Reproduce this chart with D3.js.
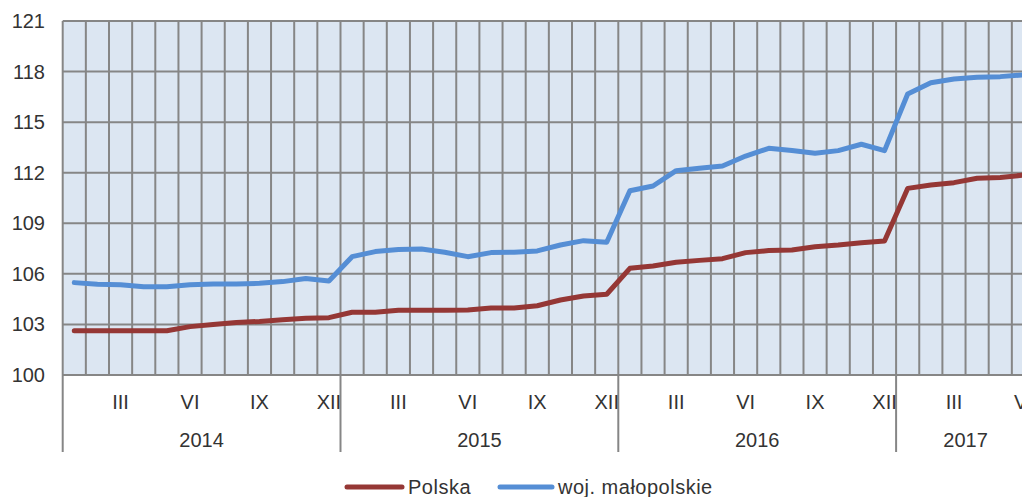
<!DOCTYPE html>
<html><head><meta charset="utf-8">
<script src="https://cdn.jsdelivr.net/npm/d3@7"></script>
<style>
html,body{margin:0;padding:0;background:#fff;overflow:hidden;}
svg{display:block;overflow:hidden;}
text{font-family:"Liberation Sans",Arial,sans-serif;fill:#333;}
</style></head>
<body>
<svg id="chart" width="1022" height="497"></svg>
<script>
const years = ["2014", "2015", "2016", "2017"];
const monthsInYear = [12, 12, 12, 6];
const romanMonths = ["I","II","III","IV","V","VI","VII","VIII","IX","X","XI","XII"];
const shownMonths = ["III","VI","IX","XII"];
const yTicks = [100, 103, 106, 109, 112, 115, 118, 121];
const seriesNames = ["Polska", "woj. małopolskie"];
const polska = [
  102.63,102.63,102.63,102.63,102.63,102.87,103.0,103.12,103.18,103.28,103.36,103.4,
  103.72,103.72,103.84,103.84,103.84,103.86,103.97,103.98,104.11,104.45,104.69,104.79,
  106.33,106.47,106.69,106.8,106.9,107.26,107.38,107.42,107.61,107.71,107.85,107.95,
  111.07,111.27,111.41,111.67,111.71,111.86
];
const malopolskie = [
  105.48,105.39,105.35,105.24,105.24,105.36,105.4,105.4,105.44,105.54,105.73,105.58,
  107.02,107.32,107.45,107.47,107.28,107.02,107.26,107.28,107.36,107.71,107.97,107.87,
  110.93,111.21,112.12,112.26,112.4,112.99,113.45,113.32,113.15,113.31,113.69,113.31,
  116.67,117.34,117.56,117.66,117.7,117.8
];

(function () {
const colors = ["#953735", "#558ED5"];
const gridColor = "#868686";

const cats = [];
years.forEach((yy, yi) => {
  for (let m = 0; m < monthsInYear[yi]; m++) cats.push({year: yy, month: romanMonths[m], key: yy + "-" + m});
});

const svg = d3.select("#chart");
const pLeft = 62.7, pTop = 21, pBottom = 375;
const catW = 23.15;
const pRight = pLeft + cats.length * catW;

const x = d3.scaleBand().domain(cats.map(d => d.key)).range([pLeft, pRight]).padding(0);
const y = d3.scaleLinear().domain([100, 121]).range([pBottom, pTop]);

svg.append("rect").attr("x", pLeft).attr("y", pTop).attr("width", pRight - pLeft).attr("height", pBottom - pTop).attr("fill", "#DCE6F2");

svg.append("g").selectAll("line").data(yTicks).join("line")
  .attr("x1", pLeft).attr("x2", pRight)
  .attr("y1", d => y(d)).attr("y2", d => y(d))
  .attr("stroke", gridColor).attr("stroke-width", 2);

const bounds = cats.map(d => x(d.key)).concat([pRight]);
svg.append("g").selectAll("line").data(bounds).join("line")
  .attr("x1", d => d).attr("x2", d => d)
  .attr("y1", pTop).attr("y2", pBottom)
  .attr("stroke", gridColor).attr("stroke-width", 2);

const yearBounds = [];
let idx = 0;
years.forEach((yy, yi) => { yearBounds.push({year: yy, start: x(cats[idx].key), end: x(cats[idx].key) + monthsInYear[yi] * catW}); idx += monthsInYear[yi]; });
const sepX = [pLeft].concat(yearBounds.map(d => d.end));
svg.append("g").selectAll("line").data(sepX).join("line")
  .attr("x1", d => d).attr("x2", d => d)
  .attr("y1", pBottom).attr("y2", 452)
  .attr("stroke", gridColor).attr("stroke-width", 2);

svg.append("g").selectAll("text").data(yTicks).join("text")
  .attr("x", 45).attr("y", d => y(d)).attr("dy", "0.35em")
  .attr("text-anchor", "end").attr("font-size", 20).text(d => d);

svg.append("g").selectAll("text").data(cats.filter(d => shownMonths.includes(d.month))).join("text")
  .attr("x", d => x(d.key) + x.bandwidth() / 2).attr("y", 402).attr("dy", "0.35em")
  .attr("text-anchor", "middle").attr("font-size", 20).text(d => d.month);

svg.append("g").selectAll("text").data(yearBounds).join("text")
  .attr("x", d => (d.start + d.end) / 2).attr("y", 440).attr("dy", "0.35em")
  .attr("text-anchor", "middle").attr("font-size", 20).text(d => d.year);

const line = d3.line().x((d, i) => x(cats[i].key) + x.bandwidth() / 2).y(d => y(d));
[polska, malopolskie].forEach((s, si) => {
  svg.append("path").datum(s).attr("d", line)
    .attr("fill", "none").attr("stroke", colors[si]).attr("stroke-width", 5)
    .attr("stroke-linejoin", "round").attr("stroke-linecap", "round");
});

const legendItems = [{x1: 347, x2: 402, tx: 408}, {x1: 500, x2: 552, tx: 558}];
legendItems.forEach((it, i) => {
  svg.append("line").attr("x1", it.x1).attr("x2", it.x2).attr("y1", 487).attr("y2", 487)
    .attr("stroke", colors[i]).attr("stroke-width", 5).attr("stroke-linecap", "round");
  svg.append("text").attr("x", it.tx).attr("y", 487).attr("dy", "0.35em")
    .attr("font-size", 20).attr("letter-spacing", "0.5px").text(seriesNames[i]);
});
})();
</script>
</body></html>
